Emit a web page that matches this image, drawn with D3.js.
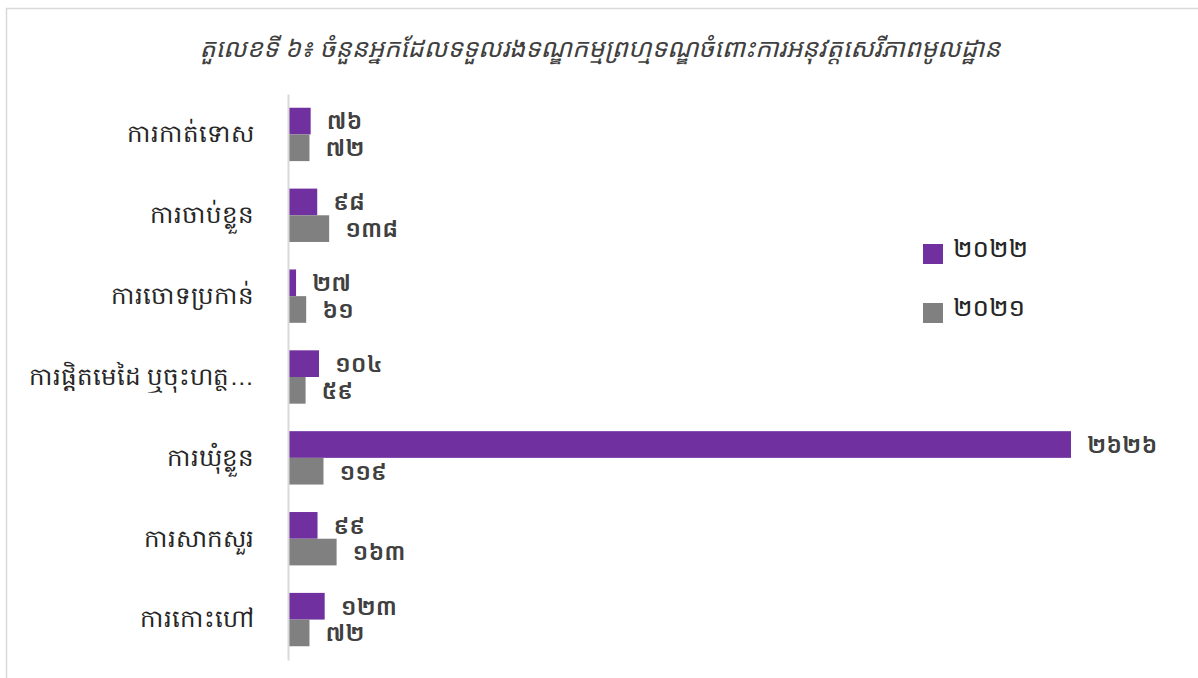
<!DOCTYPE html>
<html>
<head>
<meta charset="utf-8">
<script src="https://cdn.jsdelivr.net/npm/d3@7"></script>
<style>
  html, body { margin: 0; padding: 0; background: #fff; }
  svg { display: block; font-family: "Noto Sans Khmer", "Khmer OS", "Khmer OS System", "Noto Sans", sans-serif; }
</style>
</head>
<body>
<svg id="chart" width="1198" height="678"></svg>
<script>
const title = "តួលេខទី ៦៖ ចំនួនអ្នកដែលទទួលរងទណ្ឌកម្មព្រហ្មទណ្ឌចំពោះការអនុវត្តសេរីភាពមូលដ្ឋាន";
const categories = ["ការកាត់ទោស", "ការចាប់ខ្លួន", "ការចោទប្រកាន់", "ការផ្តិតមេដៃ ឬចុះហត្ថ…", "ការឃុំខ្លួន", "ការសាកសួរ", "ការកោះហៅ"];
const seriesNames = ["២០២២", "២០២១"];
const values2022 = [76, 98, 27, 104, 2626, 99, 123];
const values2021 = [72, 138, 61, 59, 119, 163, 72];
const colors = ["#7030A0", "#808080"];

const khmerDigits = "០១២៣៤៥៦៧៨៩";
const toKhmer = n => String(n).replace(/[0-9]/g, d => khmerDigits[+d]);

const svg = d3.select("#chart");

// outer border
svg.append("rect").attr("x", 6.5).attr("y", 8.5).attr("width", 1260).attr("height", 700)
  .attr("fill", "none").attr("stroke", "#d9d9d9").attr("stroke-width", 1.5);

// title
svg.append("text").attr("x", 600).attr("y", 57).attr("text-anchor", "middle")
  .attr("font-size", 25.5).attr("font-style", "italic").attr("fill", "#404040").text(title);

const x0 = 288, y0 = 94, y1 = 660;
const x = d3.scaleLinear().domain([0, 2626]).range([x0, 1071]);
const y = d3.scaleBand().domain(categories).range([y0, y1]).paddingInner(0.34).paddingOuter(0.17);
const ySub = d3.scaleBand().domain(seriesNames).range([0, y.bandwidth()]);

const data = categories.map((c, i) => ({ c, vals: [values2022[i], values2021[i]] }));

const g = svg.append("g");
data.forEach(d => {
  d.vals.forEach((v, j) => {
    const yy = y(d.c) + ySub(seriesNames[j]);
    g.append("rect").attr("x", x(0)).attr("y", yy)
      .attr("width", x(v) - x(0)).attr("height", ySub.bandwidth())
      .attr("fill", colors[j]);
    g.append("text").attr("x", x(v) + 16).attr("y", yy + ySub.bandwidth() / 2)
      .attr("dy", "0.35em").attr("font-size", 24).attr("font-weight", 600)
      .attr("fill", "#404040").text(toKhmer(v));
  });
});

// axis
const axis = d3.axisLeft(y).tickSize(0).tickPadding(34);
const ax = svg.append("g").attr("transform", `translate(${x0},0)`).call(axis);
ax.select(".domain").attr("stroke", "#d9d9d9").attr("stroke-width", 2);
ax.selectAll("text").attr("font-size", 24.5).attr("fill", "#262626").attr("font-family", null);

// legend
const leg = svg.append("g");
seriesNames.forEach((s, i) => {
  const ly = 244 + i * 59;
  leg.append("rect").attr("x", 923).attr("y", ly).attr("width", 20).attr("height", 20).attr("fill", colors[i]);
  leg.append("text").attr("x", 953).attr("y", ly + 4).attr("dy", "0.35em")
    .attr("font-size", 26).attr("fill", "#262626").text(s);
});
</script>
</body>
</html>
